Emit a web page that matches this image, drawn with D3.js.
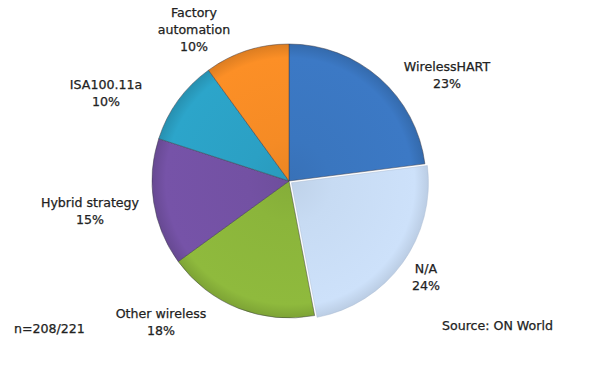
<!DOCTYPE html>
<html>
<head>
<meta charset="utf-8">
<script src="https://cdn.jsdelivr.net/npm/d3@7"></script>
<style>
  html, body { margin: 0; padding: 0; background: #fff; }
  svg { display: block; }
  text { font-family: "DejaVu Sans", Verdana, sans-serif; font-size: 12.6px; fill: #222; stroke: #222; stroke-width: 0.25px; }
</style>
</head>
<body>
<svg id="chart" width="600" height="371"></svg>
<script>
// Survey shares of wireless standards, clockwise from 12 o'clock
const categories = ["WirelessHART", "N/A", "Other wireless", "Hybrid strategy", "ISA100.11a", "Factory automation"];
const shares = [23, 24, 18, 15, 10, 10];
const sliceColors = ["#3a76bf", "#c7dbf3", "#8bb53b", "#7351a3", "#2ba0c4", "#f58b25"];
const labelLines = [["WirelessHART"], ["N/A"], ["Other wireless"], ["Hybrid strategy"], ["ISA100.11a"], ["Factory", "automation"]];
const sampleNote = "n=208/221";
const sourceNote = "Source: ON World";

const svg = d3.select("#chart");
const cx = 289, cy = 181, r = 137;

const data = categories.map((c, i) => ({ name: c, value: shares[i], color: sliceColors[i], lines: labelLines[i] }));

const pie = d3.pie().value(d => d.value).sort(null);
const arc = d3.arc().innerRadius(0).outerRadius(r);
const arcs = pie(data);

// Per-slice radial shading: flat body, darker rim
const defs = svg.append("defs");
arcs.forEach((a, i) => {
  const base = d3.color(a.data.color);
  const light = d3.hsl(base).l > 0.7;
  const g = defs.append("radialGradient")
    .attr("id", "grad" + i)
    .attr("gradientUnits", "userSpaceOnUse")
    .attr("cx", 0).attr("cy", 0).attr("r", r);
  g.append("stop").attr("offset", "0%").attr("stop-color", base.darker(0.12));
  g.append("stop").attr("offset", "30%").attr("stop-color", base);
  g.append("stop").attr("offset", "90%").attr("stop-color", base.brighter(0.08));
  g.append("stop").attr("offset", "100%").attr("stop-color", base.darker(light ? 0.18 : 0.3));
});

const explode = { "N/A": 3 };

const gPie = svg.append("g").attr("transform", `translate(${cx},${cy})`);
gPie.selectAll("path")
  .data(arcs)
  .join("path")
  .attr("transform", d => {
    const off = explode[d.data.name] || 0;
    const mid = (d.startAngle + d.endAngle) / 2;
    return `translate(${off * Math.sin(mid)},${-off * Math.cos(mid)})`;
  })
  .attr("d", arc)
  .attr("fill", (d, i) => `url(#grad${i})`)
  .attr("stroke", d => d.data.name === "N/A" ? "#aabbd2" : "#3a3a48")
  .attr("stroke-opacity", 0.6)
  .attr("stroke-width", 0.8);

// Outer label anchor points (first baseline, relative to pie centre), per slice
const labelPos = {
  "WirelessHART": [158, -110],
  "N/A": [137, 92],
  "Other wireless": [-128, 137],
  "Hybrid strategy": [-199, 26],
  "ISA100.11a": [-183, -92],
  "Factory automation": [-95, -164]
};
const lineH = 17;

const gLab = svg.append("g").attr("transform", `translate(${cx},${cy})`);
arcs.forEach(d => {
  const [lx, ly] = labelPos[d.data.name];
  const lines = d.data.lines.concat([d.data.value + "%"]);
  const t = gLab.append("text")
    .attr("text-anchor", "middle")
    .attr("x", lx)
    .attr("y", ly);
  lines.forEach((s, k) => {
    t.append("tspan").attr("x", lx).attr("dy", k === 0 ? 0 : lineH).text(s);
  });
});

svg.append("text").attr("x", 14).attr("y", 333).text(sampleNote);
svg.append("text").attr("x", 442).attr("y", 330).text(sourceNote);
</script>
</body>
</html>
